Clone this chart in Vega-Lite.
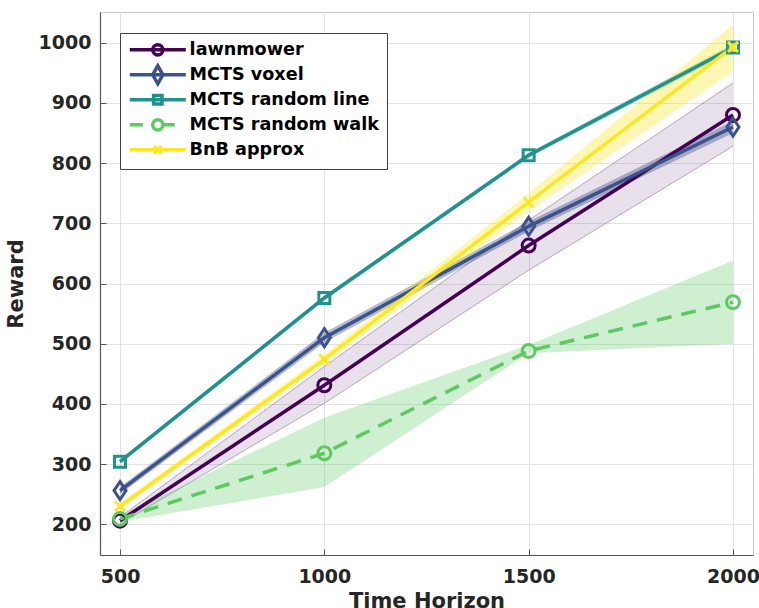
{
  "$schema": "https://vega.github.io/schema/vega-lite/v6.json",
  "width": 653,
  "height": 543,
  "autosize": {"type": "none"},
  "padding": {"left": 100, "top": 12, "right": 6, "bottom": 53},
  "background": "white",
  "config": {
    "font": "DejaVu Sans",
    "view": {"stroke": "#c8c8c8", "strokeWidth": 1},
    "axis": {
      "labelFontSize": 19,
      "labelFontWeight": "bold",
      "labelColor": "#262626",
      "titleFontSize": 21,
      "titleFontWeight": "bold",
      "titleColor": "#262626",
      "domainColor": "#555555",
      "domainWidth": 1.2,
      "tickColor": "#555555",
      "tickSize": -6,
      "gridColor": "#e3e3e3",
      "gridWidth": 1,
      "labelFlush": false,
      "labelOverlap": false,
      "labelBound": false
    }
  },
  "data": {
    "values": [
      {"series": "lawnmower", "t": 500, "reward": 206, "lo": 201, "hi": 212},
      {"series": "lawnmower", "t": 1000, "reward": 431, "lo": 401, "hi": 462},
      {"series": "lawnmower", "t": 1500, "reward": 663, "lo": 622, "hi": 705},
      {"series": "lawnmower", "t": 2000, "reward": 880, "lo": 828, "hi": 933},
      {"series": "MCTS voxel", "t": 500, "reward": 256, "lo": 250, "hi": 262},
      {"series": "MCTS voxel", "t": 1000, "reward": 510, "lo": 502, "hi": 518},
      {"series": "MCTS voxel", "t": 1500, "reward": 695, "lo": 687, "hi": 703},
      {"series": "MCTS voxel", "t": 2000, "reward": 860, "lo": 850, "hi": 870},
      {"series": "MCTS random line", "t": 500, "reward": 304, "lo": 300, "hi": 308},
      {"series": "MCTS random line", "t": 1000, "reward": 576, "lo": 572, "hi": 580},
      {"series": "MCTS random line", "t": 1500, "reward": 813, "lo": 809, "hi": 817},
      {"series": "MCTS random line", "t": 2000, "reward": 992, "lo": 986, "hi": 998},
      {"series": "MCTS random walk", "t": 500, "reward": 209, "lo": 204, "hi": 214},
      {"series": "MCTS random walk", "t": 1000, "reward": 318, "lo": 262, "hi": 377},
      {"series": "MCTS random walk", "t": 1500, "reward": 488, "lo": 484, "hi": 498},
      {"series": "MCTS random walk", "t": 2000, "reward": 569, "lo": 500, "hi": 638},
      {"series": "BnB approx", "t": 500, "reward": 230, "lo": 225, "hi": 235},
      {"series": "BnB approx", "t": 1000, "reward": 474, "lo": 466, "hi": 482},
      {"series": "BnB approx", "t": 1500, "reward": 735, "lo": 720, "hi": 750},
      {"series": "BnB approx", "t": 2000, "reward": 993, "lo": 952, "hi": 1030}
    ]
  },
  "encoding": {
    "x": {
      "field": "t",
      "type": "quantitative",
      "scale": {"domain": [451, 2049], "nice": false, "zero": false},
      "axis": {"values": [500, 1000, 1500, 2000], "format": "d", "title": "Time Horizon", "labelPadding": 18, "titlePadding": 4}
    },
    "y": {
      "field": "reward",
      "type": "quantitative",
      "scale": {"domain": [149, 1051], "nice": false, "zero": false},
      "axis": {"values": [200, 300, 400, 500, 600, 700, 800, 900, 1000], "format": "d", "title": "Reward", "labelPadding": 15, "titlePadding": 12}
    }
  },
  "layer": [
    {
      "transform": [{"filter": "datum.series === 'lawnmower'"}],
      "mark": {"type": "area", "color": "#440154", "opacity": 0.12},
      "encoding": {"y": {"field": "lo", "type": "quantitative"}, "y2": {"field": "hi"}}
    },
    {
      "transform": [{"filter": "datum.series === 'lawnmower'"}],
      "mark": {"type": "line", "color": "#440154", "strokeWidth": 0.8, "opacity": 0.4},
      "encoding": {"y": {"field": "lo", "type": "quantitative"}}
    },
    {
      "transform": [{"filter": "datum.series === 'lawnmower'"}],
      "mark": {"type": "line", "color": "#440154", "strokeWidth": 0.8, "opacity": 0.4},
      "encoding": {"y": {"field": "hi", "type": "quantitative"}}
    },
    {
      "transform": [{"filter": "datum.series === 'MCTS voxel'"}],
      "mark": {"type": "area", "color": "#3b528b", "opacity": 0.4},
      "encoding": {"y": {"field": "lo", "type": "quantitative"}, "y2": {"field": "hi"}}
    },
    {
      "transform": [{"filter": "datum.series === 'MCTS random line'"}],
      "mark": {"type": "area", "color": "#21918c", "opacity": 0.35},
      "encoding": {"y": {"field": "lo", "type": "quantitative"}, "y2": {"field": "hi"}}
    },
    {
      "transform": [{"filter": "datum.series === 'MCTS random walk'"}],
      "mark": {"type": "area", "color": "#5ec962", "opacity": 0.3},
      "encoding": {"y": {"field": "lo", "type": "quantitative"}, "y2": {"field": "hi"}}
    },
    {
      "transform": [{"filter": "datum.series === 'BnB approx'"}],
      "mark": {"type": "area", "color": "#fde725", "opacity": 0.35},
      "encoding": {"y": {"field": "lo", "type": "quantitative"}, "y2": {"field": "hi"}}
    },
    {
      "transform": [{"filter": "datum.series !== 'MCTS random walk'"}],
      "mark": {"type": "line", "strokeWidth": 3.5},
      "encoding": {
        "color": {
          "field": "series", "type": "nominal",
          "scale": {"domain": ["lawnmower", "MCTS voxel", "MCTS random line", "MCTS random walk", "BnB approx"], "range": ["#440154", "#3b528b", "#21918c", "#5ec962", "#fde725"]},
          "legend": {
            "orient": "none",
            "legendX": 20,
            "legendY": 21,
            "title": null,
            "padding": 8,
            "rowPadding": -10,
            "gridAlign": "all",
            "fillColor": "white",
            "strokeColor": "#404040",
            "cornerRadius": 0,
            "symbolType": {"expr": "datum.value === 'lawnmower' ? 'M-4.67,0L4.67,0M0.85,0A0.85,0.85 0 1 1 -0.85,0A0.85,0.85 0 1 1 0.85,0' : datum.value === 'MCTS voxel' ? 'M-4.67,0L4.67,0M0,-1.5L0.85,0L0,1.5L-0.85,0Z' : datum.value === 'MCTS random line' ? 'M-4.67,0L4.67,0M-0.7,-0.7L0.7,-0.7L0.7,0.7L-0.7,0.7Z' : datum.value === 'MCTS random walk' ? 'M-4.67,0L-2.5,0M0.85,0L2.83,0M0.85,0A0.85,0.85 0 1 1 -0.85,0A0.85,0.85 0 1 1 0.85,0' : 'M-4.67,0L4.67,0M-0.6,-0.6L0.6,0.6M-0.6,0.6L0.6,-0.6'"},
            "symbolSize": 144,
            "symbolStrokeWidth": 3.5,
            "symbolFillColor": "transparent",
            "symbolOpacity": 1,
            "symbolOffset": 21,
            "labelOffset": 23,
            "labelFont": "DejaVu Sans",
            "labelFontSize": 17.6,
            "labelFontWeight": "bold",
            "labelColor": "#000000",
            "labelLimit": 400
          }
        }
      }
    },
    {
      "transform": [{"filter": "datum.series === 'MCTS random walk'"}],
      "mark": {"type": "line", "strokeWidth": 3.5, "color": "#5ec962", "strokeDash": [15, 10]}
    },
    {
      "transform": [{"filter": "datum.series === 'lawnmower'"}],
      "mark": {"type": "point", "filled": false, "strokeWidth": 3, "opacity": 1, "color": "#440154", "shape": "circle", "size": 169}
    },
    {
      "transform": [{"filter": "datum.series === 'MCTS voxel'"}],
      "mark": {"type": "point", "filled": false, "strokeWidth": 3, "opacity": 1, "color": "#3b528b", "shape": "M0,-1.5L1,0L0,1.5L-1,0Z", "size": 144}
    },
    {
      "transform": [{"filter": "datum.series === 'MCTS random line'"}],
      "mark": {"type": "point", "filled": false, "strokeWidth": 3, "opacity": 1, "color": "#21918c", "shape": "square", "size": 121}
    },
    {
      "transform": [{"filter": "datum.series === 'MCTS random walk'"}],
      "mark": {"type": "point", "filled": false, "strokeWidth": 3, "opacity": 1, "color": "#5ec962", "shape": "circle", "size": 169}
    },
    {
      "transform": [{"filter": "datum.series === 'BnB approx'"}],
      "mark": {"type": "point", "filled": false, "strokeWidth": 3, "opacity": 1, "color": "#fde725", "shape": "M-1,-1L1,1M-1,1L1,-1", "size": 100}
    }
  ]
}
